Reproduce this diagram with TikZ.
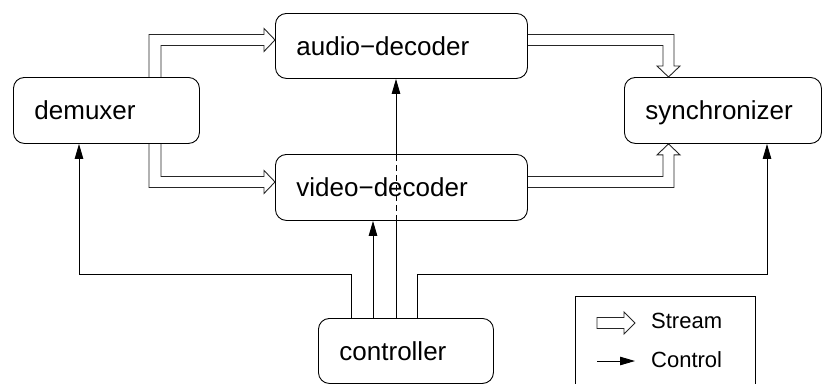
\documentclass[tikz,border=0pt]{standalone}
\usepackage{fontspec}
\setmainfont{Liberation Sans}
\usetikzlibrary{calc,arrows.meta}

\tikzset{
  box/.style={draw, line width=0.9pt, rounded corners=11pt, anchor=north west,
    inner xsep=21pt, inner ysep=0pt, align=left, text depth=0pt,
    font=\fontsize{26}{31}\selectfont},
  stream/.style={draw=black!85, line width=0.9pt, line join=miter},
  ctl/.style={draw, line width=0.9pt, -{Triangle[length=15pt,width=8.5pt]}},
  plain/.style={draw, line width=0.9pt},
  legendtext/.style={anchor=base west, inner sep=0pt, font=\fontsize{22}{26}\selectfont}
}

\begin{document}
\begin{tikzpicture}[x=1pt, y=-1pt]
\useasboundingbox (0,0) rectangle (832,383);

% processing blocks
\node[box, text width=144pt, minimum height=66pt] (demux) at (13,77) {demuxer};
\node[box, text width=210pt, minimum height=65pt] (audio) at (275,13) {audio−decoder};
\node[box, text width=210pt, minimum height=66pt] (video) at (275,154) {video−decoder};
\node[box, text width=155pt, minimum height=66pt] (sync) at (624,77) {synchronizer};
\node[box, text width=133pt, minimum height=65pt] (ctrl) at (318,318) {controller};

% stream connectors (hollow arrows)
\draw[stream] ($(demux.north west)+(136,0)$) |- ($(audio.west)+(-11,-11.5)$)
  -- ++(0,-6) -- ($(audio.west)+(0,-6)$) -- ++(-11,11.5) -- ++(0,-6)
  -| ($(demux.north west)+(148,0)$);
\draw[stream] ($(demux.south west)+(148,0)$) |- ($(video.west)+(-11,-11)$)
  -- ++(0,-6) -- ($(video.west)+(0,-5.5)$) -- ++(-11,11.5) -- ++(0,-6)
  -| ($(demux.south west)+(136,0)$);
\draw[stream] ($(audio.east)+(0,-11.5)$) -| ($(sync.north west)+(50,-11)$)
  -- ++(6,0) -- ($(sync.north west)+(44.5,0)$) -- ++(-11.5,-11) -- ++(6,0)
  |- ($(audio.east)+(0,-0.5)$);
\draw[stream] ($(video.east)+(0,-11)$) -| ($(sync.south west)+(39,11)$)
  -- ++(-6,0) -- ($(sync.south west)+(44.5,0)$) -- ++(11.5,11) -- ++(-6,0)
  |- (video.east);

% control connectors
\draw[ctl] ($(ctrl.north west)+(33,0)$) |- ($(demux.south west)+(66,131)$)
  -- ($(demux.south west)+(66,0)$);
\draw[ctl] ($(ctrl.north west)+(55,0)$) -- ($(video.south west)+(98,0)$);
\draw[plain] ($(ctrl.north west)+(78,0)$) -- ($(video.south west)+(121,0)$);
\draw[plain, dash pattern=on 6pt off 4pt] ($(video.south west)+(121,0)$) -- ($(video.north west)+(121,0)$);
\draw[ctl] ($(video.north west)+(121,0)$) -- ($(audio.south west)+(121,0)$);
\draw[ctl] ($(ctrl.north west)+(99,0)$) |- ($(sync.south west)+(143,131)$)
  -- ($(sync.south west)+(143,0)$);

% legend
\draw[plain] (575,392) -- (575,296) -- (755,296) -- (755,392);
\draw[stream] (597,317.5) -- (624,317.5) -- (624,312) -- (635,323) -- (624,334)
  -- (624,328.5) -- (597,328.5) -- cycle;
\node[legendtext] (lstream) at (651,328) {Stream};
\draw[ctl] (597,361) -- (635,361);
\node[legendtext] (lcontrol) at (651,367) {Control};
\end{tikzpicture}
\end{document}
